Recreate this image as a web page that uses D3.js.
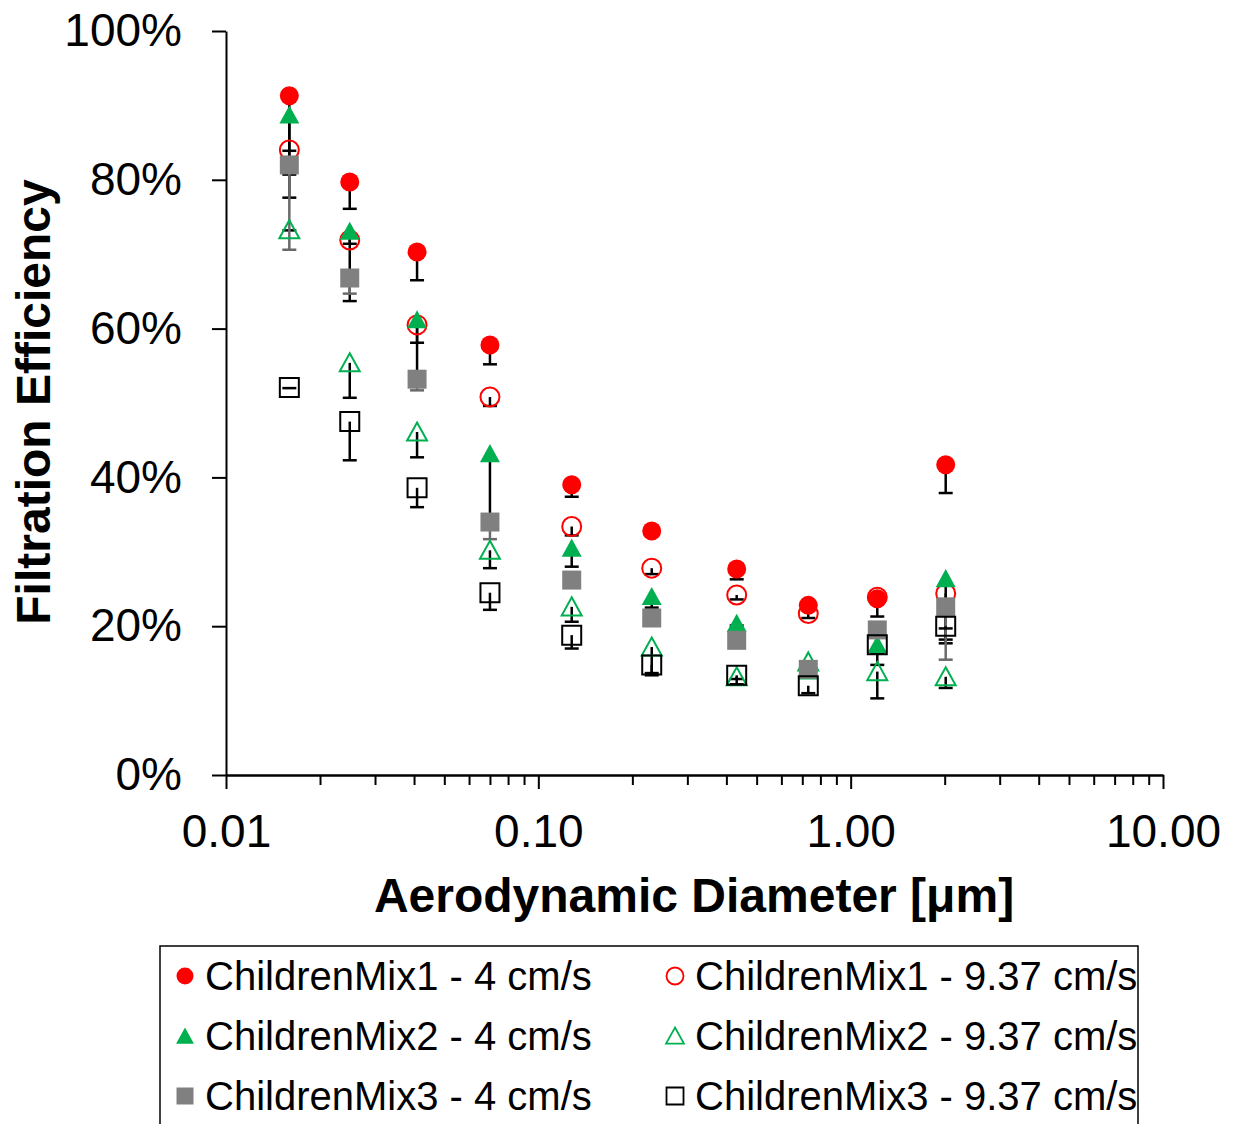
<!DOCTYPE html>
<html><head><meta charset="utf-8">
<script src="https://cdn.jsdelivr.net/npm/d3@7"></script>
<style>
html,body{margin:0;padding:0;background:#fff;}
svg{display:block;font-family:"Liberation Sans",Arial,sans-serif;}
</style></head>
<body>
<svg id="chart" width="1236" height="1124"></svg>
<script>
// ---- data ----
const diameters = [0.01595, 0.0249, 0.0409, 0.0700, 0.1279, 0.2307, 0.4316, 0.7316, 1.2168, 2.015];
const mix1_4 = [91.3, 79.7, 70.3, 57.8, 39.0, 32.8, 27.7, 22.8, 23.7, 41.7];
const mix1_4_err = [10.6, 3.6, 3.8, 2.6, 1.6, 0.3, 1.4, 0.5, 2.4, 3.8];
const mix1_9 = [84.0, 71.9, 60.5, 50.8, 33.4, 27.8, 24.2, 21.7, 23.9, 24.4];
const mix1_9_err = [0.1, 0.5, 2.4, 1.2, 1.2, 0.8, 0.6, 0.6, 0.3, 6.2];
const mix2_4 = [88.7, 73.1, 61.2, 43.2, 30.5, 24.0, 20.4, 14.0, 17.5, 26.4];
const mix2_4_err = [11.1, 9.4, 7.5, 9.0, 2.5, 1.5, 0.3, 0.3, 2.7, 8.7];
const mix2_9 = [73.3, 55.4, 46.1, 30.2, 22.6, 17.2, 13.2, 15.2, 13.9, 13.2];
const mix2_9_err = [0.1, 4.7, 3.4, 2.4, 2.0, 3.5, 1.0, 0.3, 3.6, 1.5];
const mix3_4 = [82.0, 66.8, 53.2, 34.0, 26.2, 21.1, 18.1, 14.2, 19.5, 22.6];
const mix3_4_err = [11.4, 2.1, 1.5, 2.3, 0.5, 0.5, 0.3, 0.5, 0.5, 7.1];
const mix3_9 = [52.1, 47.5, 38.6, 24.5, 18.8, 14.8, 13.4, 12.0, 17.5, 20.0];
const mix3_9_err = [0.1, 5.2, 2.6, 2.3, 1.8, 1.4, 0.5, 1.0, 1.2, 0.3];
const seriesNames = ["ChildrenMix1 - 4 cm/s","ChildrenMix1 - 9.37 cm/s","ChildrenMix2 - 4 cm/s","ChildrenMix2 - 9.37 cm/s","ChildrenMix3 - 4 cm/s","ChildrenMix3 - 9.37 cm/s"];
const xTickValues = [0.01, 0.1, 1, 10];
const yTickValues = [0, 20, 40, 60, 80, 100];

// ---- styles ----
const series = [
  {name: seriesNames[0], vals: mix1_4, err: mix1_4_err, shape: "circle", fill: "#FF0000", stroke: "none", errColor: "#000"},
  {name: seriesNames[1], vals: mix1_9, err: mix1_9_err, shape: "circle", fill: "none", stroke: "#FF0000", errColor: "#000"},
  {name: seriesNames[2], vals: mix2_4, err: mix2_4_err, shape: "triangle", fill: "#00B050", stroke: "none", errColor: "#000"},
  {name: seriesNames[3], vals: mix2_9, err: mix2_9_err, shape: "triangle", fill: "none", stroke: "#00B050", errColor: "#000"},
  {name: seriesNames[4], vals: mix3_4, err: mix3_4_err, shape: "square", fill: "#808080", stroke: "none", errColor: "#6a6a6a"},
  {name: seriesNames[5], vals: mix3_9, err: mix3_9_err, shape: "square", fill: "none", stroke: "#000", errColor: "#000"}
];

const svg = d3.select("#chart");
const x = d3.scaleLog().domain([0.01, 10]).range([226, 1163]);
const y = d3.scaleLinear().domain([0, 100]).range([775, 31]);

function shapePath(shape, s) {
  if (shape === "circle") { const p = d3.path(); p.arc(0, 0, s, 0, 2 * Math.PI); p.closePath(); return p.toString(); }
  if (shape === "square") return `M${-s},${-s}H${s}V${s}H${-s}Z`;
  if (shape === "triangle") return `M0,${-s}L${s * 1.05},${s * 0.9}L${-s * 1.05},${s * 0.9}Z`;
}

// ---- axes ----
const yAxis = d3.axisLeft(y).tickValues(yTickValues).tickSize(14).tickSizeOuter(0).tickPadding(30)
  .tickFormat(d => d + "%");
const gy = svg.append("g").attr("transform", "translate(226,0)").call(yAxis);
gy.selectAll("text").attr("font-size", 46).attr("fill", "#000").attr("font-family", "Liberation Sans, Arial, sans-serif");
gy.selectAll("line,path").attr("stroke", "#000").attr("stroke-width", 2);

const minorVals = [];
[0.01, 0.1, 1].forEach(b => { for (let k = 2; k <= 9; k++) minorVals.push(b * k); });
const xMinor = d3.axisBottom(x).tickValues(minorVals).tickSize(10).tickSizeOuter(0).tickFormat("");
const gxm = svg.append("g").attr("transform", "translate(0,775)").call(xMinor);
gxm.selectAll("line,path").attr("stroke", "#000").attr("stroke-width", 2);

const xAxis = d3.axisBottom(x).tickValues(xTickValues).tickSize(14).tickSizeOuter(0)
  .tickFormat(d3.format(".2f"));
const gx = svg.append("g").attr("transform", "translate(0,775)").call(xAxis);
gx.selectAll("line,path").attr("stroke", "#000").attr("stroke-width", 2);
gx.selectAll("text").attr("font-size", 46).attr("fill", "#000").attr("y", 72).attr("dy", 0)
  .attr("font-family", "Liberation Sans, Arial, sans-serif");

// axis titles
svg.append("text").attr("x", 694).attr("y", 912).attr("text-anchor", "middle")
  .attr("font-size", 48).attr("font-weight", "bold").text("Aerodynamic Diameter [μm]");
svg.append("text").attr("transform", "translate(50,402) rotate(-90)").attr("text-anchor", "middle")
  .attr("font-size", 48).attr("font-weight", "bold").text("Filtration Efficiency");

// ---- error bars ----
const gErr = svg.append("g");
series.forEach(s => {
  s.vals.forEach((v, i) => {
    const cx = x(diameters[i]);
    const y0 = y(v), y1 = y(v - s.err[i]);
    gErr.append("line").attr("x1", cx).attr("x2", cx).attr("y1", y0).attr("y2", y1)
      .attr("stroke", s.errColor).attr("stroke-width", 2.5);
    gErr.append("line").attr("x1", cx - 7).attr("x2", cx + 7).attr("y1", y1).attr("y2", y1)
      .attr("stroke", s.errColor).attr("stroke-width", 2.5);
  });
});

// ---- markers ----
series.forEach(s => {
  const g = svg.append("g");
  g.selectAll("path").data(s.vals).enter().append("path")
    .attr("d", shapePath(s.shape, 9.5))
    .attr("transform", (v, i) => `translate(${x(diameters[i])},${y(v)})`)
    .attr("fill", s.fill)
    .attr("stroke", s.stroke)
    .attr("stroke-width", s.stroke === "none" ? 0 : 2);
});

// ---- legend ----
svg.append("rect").attr("x", 160).attr("y", 946).attr("width", 978).attr("height", 240)
  .attr("fill", "none").attr("stroke", "#000").attr("stroke-width", 1.5);
series.forEach((s, k) => {
  const col = k % 2, row = Math.floor(k / 2);
  const mx = col === 0 ? 185 : 675;
  const my = 976 + row * 60;
  svg.append("path").attr("d", shapePath(s.shape, 8.5))
    .attr("transform", `translate(${mx},${my})`)
    .attr("fill", s.fill).attr("stroke", s.stroke).attr("stroke-width", s.stroke === "none" ? 0 : 1.8);
  svg.append("text").attr("x", mx + 20).attr("y", my + 14).attr("font-size", 40).attr("fill", "#000").text(s.name);
});
</script>
</body></html>
